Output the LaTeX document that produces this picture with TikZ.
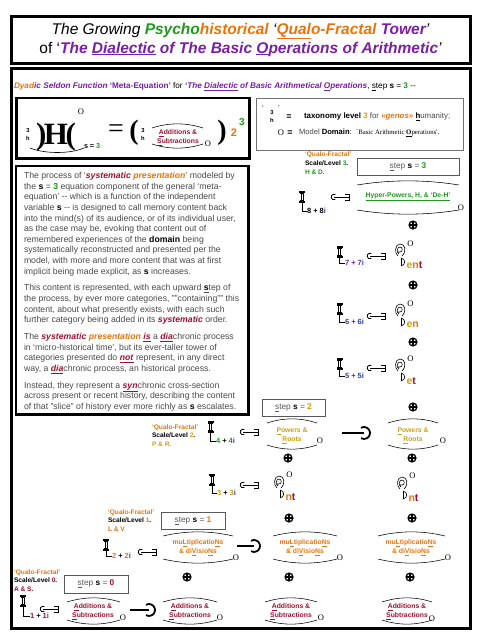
\documentclass[tikz,border=0pt]{standalone}
\usepackage{fontspec}
\setmainfont{Liberation Sans}
\newfontfamily\qserif{Liberation Serif}
\definecolor{qorange}{HTML}{E8740C}
\definecolor{qgreen}{HTML}{1E9A1E}
\definecolor{qpurple}{HTML}{7A1FA6}
\definecolor{qred}{HTML}{A0102E}
\definecolor{qgold}{HTML}{CFA010}
\definecolor{qblue}{HTML}{2642B0}
\definecolor{qgray}{HTML}{4A4A4A}
\newcommand\fsz[2]{\fontsize{#1}{#2}\selectfont}
\newcommand\bi[2]{\textcolor{#1}{\textbf{\textit{#2}}}}
\newcommand\ubi[2]{\textcolor{#1}{\underline{\textbf{\textit{#2}}}}}
\newcommand\scrl[4]{%
 \draw[line width=0.55pt] (#1,#2+3) .. controls ({#1+(#3-#1)/3},{#2-2.5}) and ({#3-(#3-#1)/3},{#2-2.5}) .. (#3,#2+3);
 \draw[line width=0.55pt] (#1,#4-3) .. controls ({#1+(#3-#1)/3},{#4+2.5}) and ({#3-(#3-#1)/3},{#4+2.5}) .. (#3,#4-3);}
\tikzset{
 tx/.style={inner sep=0pt,outer sep=0pt},
 lvl/.style={tx,anchor=north west,align=left,font=\fsz{6.6}{8.7}\bfseries},
 stepbox/.style={draw=black!65,line width=0.7pt,minimum height=17pt,inner sep=0pt,text=black!65,font=\fsz{8.3}{9}},
 scrtxt/.style={tx,font=\fsz{6.8}{9}\bfseries,align=center},
 num/.style={tx,anchor=west,font=\fsz{7.5}{8}\bfseries},
 suf/.style={tx,anchor=west,font=\fsz{10.5}{11}\bfseries},
 domo/.style={tx,font=\qserif\fsz{8.5}{9}},
 leader/.style={line width=0.6pt},
 pics/oplusg/.style={code={
   \draw[line width=1.3pt] (0,0) circle[radius=3.9pt];
   \draw[line width=1.2pt] (-3.9,0)--(3.9,0) (0,-3.9)--(0,3.9);}},
 pics/ibeam/.style={code={
   \draw[line width=1.1pt] (-3,-5)--(3,-5) (-3,5)--(3,5);
   \draw[line width=0.5pt] (-2.2,-3.4)--(2.2,-3.4) (-2.2,3.4)--(2.2,3.4);
   \draw[line width=0.5pt] (-1,-3.4)--(-1,3.4) (1,-3.4)--(1,3.4);}},
 pics/cbrack/.style={code={
   \draw[line width=0.8pt] (-7,0) ++(60:2.8pt) arc[start angle=60,end angle=300,radius=2.8pt];
   \draw[line width=0.8pt] (-7,0)--(8,0);
   \draw[line width=0.9pt] (4,-3)--(8,-3)--(8,3)--(4,3);}},
 pics/earg/.style={code={
   \draw[line width=0.6pt] (2,5) .. controls (7,0) and (5,-7) .. (0,-7) .. controls (-5,-7) and (-6,2) .. (-2,5);
   \draw[line width=0.6pt] (-1,3) .. controls (-4,1) and (-3,-4) .. (0,-4) .. controls (3,-4) and (3,1) .. (0,1) -- (-2,1);
   \draw[line width=0.6pt] (1,7) -- (1,15);
   \draw[line width=0.6pt] (1,7) .. controls (6,8) and (6,14) .. (1,15);}},
 pics/hookarr/.style={code={
   \draw[line width=1.8pt] (0,0) ++(120:6pt) arc[start angle=120,end angle=-120,radius=6pt];}}
}
\begin{document}
\begin{tikzpicture}[x=1pt,y=-1pt]
\useasboundingbox (0,0) rectangle (480,640);
\fill[white] (0,0) rectangle (480,640);
% ---------- title ----------
\draw[line width=3pt] (11,16.5) rectangle (470,63);
\node[tx,font=\fsz{15.5}{18}\itshape] (title1) at (240.5,31) {The Growing \textbf{\color{qgreen}Psycho}\textbf{\color{qorange}historical} `\textbf{\color{qorange}\underline{Qual}o-Fractal} \textbf{\color{qpurple}Tower}'};
\node[tx,font=\fsz{15.5}{18}\itshape] (title2) at (240.5,49) {\upshape of `\itshape\textbf{\color{qpurple}The \underline{Dialectic} of The Basic \underline{O}perations of Arithmetic}'};
% ---------- main frame ----------
\draw[line width=3pt] (11,68.5) rectangle (470.5,628);
\node[tx,anchor=west,font=\fsz{8.2}{9}] (hdr) at (14,87) {\bi{qorange}{Dyad}\bi{qpurple}{ic Seldon Function} \textbf{\color{qpurple}`Meta-Equation'} for \bi{qpurple}{`The \underline{Dialectic} of Basic Arithmetical \underline{O}perations}, \underline{s}tep \textbf{s} = \textbf{\color{qgreen}3} -{}-};
% ---------- equation box ----------
\draw[line width=2.5pt] (16.5,98) rectangle (249.5,158.5);
\node[tx,font=\fsz{5.8}{6}\bfseries] (e3a) at (28,131) {3};
\node[tx,font=\fsz{5.8}{6}\bfseries] (eha) at (28,138.5) {h};
\node[tx,font=\qserif\bfseries\fsz{31}{31}] (glyph) at (56,137) {)\kern-2.5pt H\kern-2.5pt(};
\node[domo] (eo1) at (81,112) {O};
\node[tx,anchor=west,font=\fsz{7.2}{8}\bfseries] (es) at (84,146) {s = {\color{qgreen}3}};
\draw[line width=0.6pt] (30,148) .. controls (45,154) and (70,154) .. (84,148);
\node[tx,font=\qserif\fsz{28}{28}] (eq) at (116,131) {=};
\node[tx,font=\qserif\bfseries\fsz{28}{28}] (lp) at (134,133) {(};
\node[tx,font=\fsz{5.8}{6}\bfseries] (e3c) at (143,131) {3};
\node[tx,font=\fsz{5.8}{6}\bfseries] (ehc) at (143,138.5) {h};
\scrl{152}{125}{203}{147}
\node[scrtxt,text=qred] (eadd) at (178,137.5) {\underline{A}dditions \&\\\underline{S}ubtractions};
\node[domo] (eo2) at (208,144) {O};
\node[tx,font=\qserif\bfseries\fsz{28}{28}] (rp) at (222,133) {)};
\node[tx,font=\fsz{11}{12}\bfseries,text=qorange] (e2) at (234,133) {2};
\node[tx,font=\fsz{10}{11}\bfseries,text=qgreen] (e3b) at (242,122) {3};
% ---------- legend ----------
\draw[draw=black!55,line width=0.7pt] (256.5,98) rectangle (463.5,150);
\node[tx,font=\fsz{7}{7}] (lq1) at (263,108) {`};
\node[tx,font=\fsz{5.8}{6}\bfseries] (l3) at (272,113) {3};
\node[tx,font=\fsz{5.8}{6}\bfseries] (lh) at (272,120) {h};
\node[tx,font=\fsz{7}{7}] (lq2) at (279,108) {'};
\node[tx,font=\fsz{9}{9}\bfseries] (leq) at (289,117) {=};
\node[tx,anchor=west,font=\fsz{7.9}{8}] (ltx) at (304,117) {\textbf{taxonomy level {\color{qgold}3}} {\color{qgray}for} \bi{qorange}{«genos»} \underline{\textbf{h}}{\color{qgray}umanity;}};
\node[domo] (lo) at (281,133) {O};
\node[tx,font=\fsz{9}{9}\bfseries] (leq2) at (290,133) {=};
\node[tx,anchor=west,font=\fsz{7.6}{8}] (ldom) at (299,133) {{\color{qgray}Model} \textbf{Domain}:\ \ {\qserif\fsz{6.8}{7}`Basic Arithmetic \underline{\textbf{O}}perations'}.};
% ---------- text box ----------
\draw[line width=2.5pt] (16,166) rectangle (248.5,414.5);
\node[tx,anchor=north west,align=left,text=qgray,font=\fsz{8.7}{10.6}] (body) at (24,172.3) {%
The process of `\bi{qred}{systematic} \bi{qorange}{presentation}' modeled by\\
the \textbf{\color{black}s} = \textbf{\color{qgreen}3} equation component of the general `meta-\\
equation' -{}- which is a function of the independent\\
variable \textbf{\color{black}s} -{}- is designed to call memory content back\\
into the mind(s) of its audience, or of its individual user,\\
as the case may be, evoking that content out of\\
remembered experiences of the \textbf{\color{black}domain} being\\
systematically reconstructed and presented per the\\
model, with more and more content that was at first\\
implicit being made explicit, as \textbf{\color{black}s} increases.\\[6.3pt]
This content is represented, with each upward \underline{\textbf{\color{black}s}}tep of\\
the process, by ever more categories, ""containing"" this\\
content, about what presently exists, with each such\\
further category being added in its \bi{qred}{systematic} order.\\[6.3pt]
The \bi{qred}{systematic} \bi{qorange}{presentation} \ubi{qred}{is} a \ubi{qred}{dia}chronic process\\
in `micro-historical time', but its ever-taller tower of\\
categories presented do \ubi{qred}{not} represent, in any direct\\
way, a \ubi{qred}{dia}chronic process, an historical process.\\[6.3pt]
Instead, they represent a \ubi{qred}{syn}chronic cross-section\\
across present or recent history, describing the content\\
of that "slice" of history ever more richly as \textbf{\color{black}s} escalates.};
% ---------- level 3 ----------
\node[lvl] (lv3) at (305,152) {{\color{qorange}`Qualo-Fractal'}\\Scale/Level {\color{qgreen}3}.\\{\color{qgreen}H \& D.}};
\node[stepbox,minimum width=102pt] (st3) at (408,166.5) {\underline{s}tep \textbf{\color{black}s} = \textbf{\color{qgreen}3}};
\coordinate (i8) at (302,197);
\pic at (i8) {ibeam};
\node[num] (n8) at (307,211) {8 + 8{\color{qblue}i}};
\draw[leader] ([yshift=-5pt]i8) |- (n8.west);
\pic at (341,197) {cbrack};
\scrl{357}{182}{459}{213}
\node[scrtxt,text=qgreen] (hyp) at (408,196.5) {\underline{Hyper-Powers, H, \& `De-H'}};
\node[domo] (o8) at (461,208) {O};
\pic at (413,225) {oplusg};
% 7+7i
\coordinate (i7) at (339.5,252);
\pic at (i7) {ibeam};
\node[num,text=qpurple] (n7) at (345,263) {7 + 7{\color{qblue}i}};
\draw[leader] ([yshift=-5pt]i7) |- (n7.west);
\pic at (377,256) {cbrack};
\pic at (400,251) {earg};
\node[domo] (o7) at (410.5,243.5) {O};
\node[suf] (s7) at (406.5,265) {{\color{qgold}e}{\color{qorange}n}{\color{qred}t}};
\pic at (413,285) {oplusg};
% 6+6i
\coordinate (i6) at (339.5,309);
\pic at (i6) {ibeam};
\node[num,text=qblue] (n6) at (345,322) {6 + 6i};
\draw[leader] ([yshift=-5pt]i6) |- (n6.west);
\pic at (377,316) {cbrack};
\pic at (400,311) {earg};
\node[domo] (o6) at (410.5,303.5) {O};
\node[suf] (s6) at (406.5,325) {{\color{qgold}e}{\color{qorange}n}};
\pic at (413,342) {oplusg};
% 5+5i
\coordinate (i5) at (339.5,364);
\pic at (i5) {ibeam};
\node[num,text=qblue] (n5) at (345,376) {5 + 5i};
\draw[leader] ([yshift=-5pt]i5) |- (n5.west);
\pic at (377,368) {cbrack};
\pic at (400,366) {earg};
\node[domo] (o5) at (410.5,358.5) {O};
\node[suf] (s5) at (406.5,381) {{\color{qgold}e}{\color{qred}t}};
\pic at (413,407) {oplusg};
% ---------- level 2 ----------
\node[stepbox,minimum width=63pt] (st2) at (293.5,407.5) {\underline{s}tep \textbf{\color{black}s} = \textbf{\color{qgold}2}};
\node[lvl] (lv2) at (152,424.5) {{\color{qorange}`Qualo-Fractal'}\\Scale/Level {\color{qgold}2}.\\{\color{qgold}P \& R.}};
\coordinate (i4) at (210.5,427);
\pic at (i4) {ibeam};
\node[num] (n4) at (216,441) {{\color{qgreen}4} + {\color{qgreen}4}{\color{qblue}i}};
\draw[leader] ([yshift=-5pt]i4) |- (n4.west);
\pic at (250,432) {cbrack};
\scrl{267}{420}{317}{448}
\node[scrtxt,text=qgold] (pr1) at (292,435.5) {\underline{P}owers \&\\\underline{R}oots};
\node[domo] (opr1) at (320,441) {O};
\coordinate (a2s) at (342,433);
\coordinate (a2e) at (364,433);
\draw[line width=1.8pt] (a2s) -- (a2e);
\pic at (a2e) {hookarr};
\scrl{388}{420}{438}{448}
\node[scrtxt,text=qgold] (pr2) at (413,435.5) {\underline{P}owers \&\\\underline{R}oots};
\node[domo] (opr2) at (443,441) {O};
\pic at (288,458) {oplusg};
\pic at (412,458) {oplusg};
% 3+3i
\coordinate (i3) at (212,480);
\pic at (i3) {ibeam};
\node[num] (n3) at (217,493) {{\color{qgold}3} + {\color{qgold}3}{\color{qblue}i}};
\draw[leader] ([yshift=-5pt]i3) |- (n3.west);
\pic at (250,485) {cbrack};
\pic at (279,483) {earg};
\node[domo] (o3a) at (289.5,475) {O};
\node[suf] (s3a) at (285.5,497) {{\color{qorange}n}{\color{qred}t}};
\pic at (402,484) {earg};
\node[domo] (o3b) at (412.5,476) {O};
\node[suf] (s3b) at (408.5,498) {{\color{qorange}n}{\color{qred}t}};
\pic at (289,518) {oplusg};
\pic at (412,518) {oplusg};
% ---------- level 1 ----------
\node[lvl] (lv1) at (108,509.5) {{\color{qorange}`Qualo-Fractal'}\\Scale/Level {\color{qorange}1}.\\{\color{qorange}L \& V}};
\node[stepbox,minimum width=64pt] (st1) at (193,520.5) {\underline{s}tep \textbf{\color{black}s} = \textbf{\color{qorange}1}};
\coordinate (i2) at (106,545);
\pic at (i2) {ibeam};
\node[num] (n2) at (112,556) {{\color{qorange}2} + {\color{qorange}2}{\color{qblue}i}};
\draw[leader] ([yshift=-5pt]i2) |- (n2.west);
\pic at (148,552) {cbrack};
\scrl{163}{533}{233}{562}
\node[scrtxt,text=qorange] (ml1) at (198,547.5) {mu\underline{L}tiplicatio\underline{N}s\\\& di\underline{V}isio\underline{N}s};
\node[domo] (oml1) at (236,558) {O};
\coordinate (a1s) at (237,546);
\coordinate (a1e) at (254,546);
\draw[line width=1.8pt] (a1s) -- (a1e);
\pic at (a1e) {hookarr};
\scrl{273}{533}{337}{562}
\node[scrtxt,text=qorange] (ml2) at (305,547.5) {mu\underline{L}tiplicatio\underline{N}s\\\& di\underline{V}isio\underline{N}s};
\node[domo] (oml2) at (340,558) {O};
\scrl{378}{533}{445}{562}
\node[scrtxt,text=qorange] (ml3) at (411,547.5) {mu\underline{L}tiplicatio\underline{N}s\\\& di\underline{V}isio\underline{N}s};
\node[domo] (oml3) at (448,558) {O};
\pic at (187,577) {oplusg};
\pic at (289,577) {oplusg};
\pic at (410,577) {oplusg};
% ---------- level 0 ----------
\node[lvl] (lv0) at (14,569.5) {{\color{qorange}`Qualo-Fractal'}\\Scale/Level {\color{qred}0}.\\{\color{qred}A \& S.}};
\node[stepbox,minimum width=64pt,minimum height=18pt] (st0) at (96,584) {\underline{s}tep \textbf{\color{black}s} = \textbf{\color{qred}0}};
\coordinate (i1) at (23,601);
\pic at (i1) {ibeam};
\node[num] (n1) at (30,616) {{\color{qred}1} + {\color{qred}1}{\color{qblue}i}};
\draw[leader] ([yshift=-5pt]i1) |- (n1.west);
\pic at (50,609) {cbrack};
\scrl{67}{599}{120}{623}
\node[scrtxt,text=qred] (ad1) at (93,611.5) {\underline{A}dditions \&\\\underline{S}ubtractions};
\node[domo] (oad1) at (123,618) {O};
\coordinate (a0s) at (130,610);
\coordinate (a0e) at (149,610);
\draw[line width=1.8pt] (a0s) -- (a0e);
\pic at (a0e) {hookarr};
\scrl{163}{599}{217}{623}
\node[scrtxt,text=qred] (ad2) at (190,611.5) {\underline{A}dditions \&\\\underline{S}ubtractions};
\node[domo] (oad2) at (220,618) {O};
\scrl{265}{599}{317}{623}
\node[scrtxt,text=qred] (ad3) at (291,611.5) {\underline{A}dditions \&\\\underline{S}ubtractions};
\node[domo] (oad3) at (321,618) {O};
\scrl{382}{599}{432}{623}
\node[scrtxt,text=qred] (ad4) at (407,611.5) {\underline{A}dditions \&\\\underline{S}ubtractions};
\node[domo] (oad4) at (432,619) {O};
\end{tikzpicture}
\end{document}
